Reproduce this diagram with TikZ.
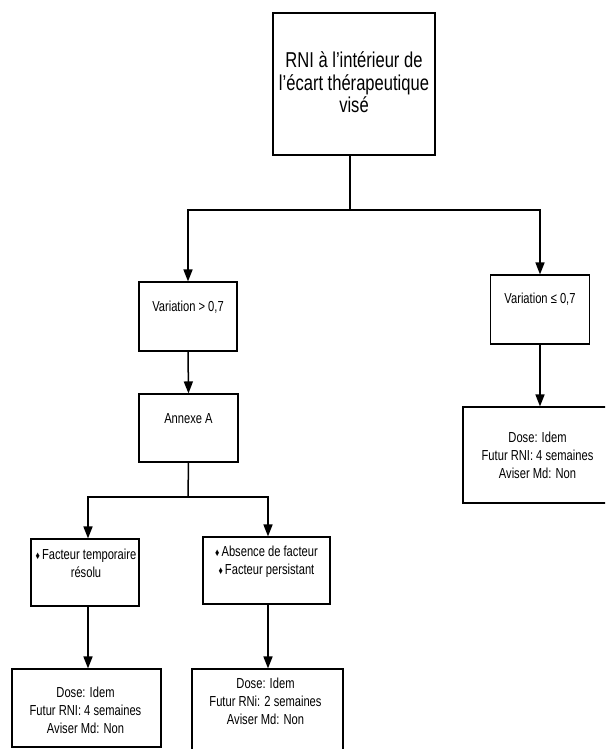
\documentclass[tikz,border=0pt]{standalone}
\usepackage{fontspec}
\setmainfont{Liberation Sans}[FakeStretch=0.77]
\usetikzlibrary{arrows.meta}
\newcommand{\dia}{{\fontsize{11}{18}\selectfont ♦}\hspace{2pt}}
\begin{document}
\begin{tikzpicture}[x=1pt,y=-1pt,
  box/.style={draw=black, line width=1.1pt, inner sep=0pt},
  txt/.style={align=center, inner sep=0pt, font=\fontsize{14.5}{18}\selectfont},
  bigtxt/.style={align=center, inner sep=0pt, font=\fontsize{21.5}{22.5}\selectfont},
  link/.style={line width=1.5pt},
  arr/.style={line width=1.5pt, -{Triangle[length=12pt,width=9pt]}}]
\useasboundingbox (0,0) rectangle (605,749);
\clip (0,0) rectangle (605,749);

% boxes
\node[box, minimum width=162pt, minimum height=142pt] (top) at (354,84) {};
\node[box, minimum width=98pt, minimum height=69pt] (v1) at (188,316.5) {};
\node[box, minimum width=99pt, minimum height=69pt] (v2) at (540,309.5) {};
\node[box, minimum width=99pt, minimum height=68pt] (ann) at (188.5,428) {};
\node[box, minimum width=108pt, minimum height=67pt] (f1) at (85,572.5) {};
\node[box, minimum width=127pt, minimum height=67pt] (f2) at (266.5,570.5) {};
\node[box, minimum width=149pt, minimum height=78pt] (d1) at (86.5,708) {};
\node[box, minimum width=151pt, minimum height=100pt] (d2) at (267.5,719) {};
\node[box, minimum width=160pt, minimum height=96pt] (d3) at (543,455) {};

% texts
\node[bigtxt] (ttop) at (354,82.5) {RNI à l'intérieur de\\l'écart thérapeutique\\visé};
\node[txt] (tv1) at (188,307) {Variation > 0,7};
\node[txt] (tv2) at (540,299) {Variation ≤ 0,7};
\node[txt] (tann) at (188.5,419) {Annexe A};
\node[txt] (tf1) at (86,563) {\dia Facteur temporaire\\résolu};
\node[txt] (tf2) at (266.5,561.5) {\dia Absence de facteur\\\dia Facteur persistant};
\node[txt] (td1) at (85.5,710) {Dose: Idem\\Futur RNI: 4 semaines\\Aviser Md: Non};
\node[txt] (td2) at (265.5,701.5) {Dose: Idem\\Futur RNi: 2 semaines\\Aviser Md: Non};
\node[txt] (td3) at (537.5,455) {Dose: Idem\\Futur RNI: 4 semaines\\Aviser Md: Non};

% junctions
\coordinate (j1) at (350,210);
\coordinate (j2) at (188,497);

% connectors
\draw[link] (top.south -| j1) -- (j1);
\draw[arr] (j1) -| (v1.north);
\draw[arr] (j1) -| (v2.north);
\draw[arr] (v1.south) -- (ann.north);
\draw[arr] (v2.south) -- (v2.south |- d3.north);
\draw[link] (ann.south) -- (j2);
\draw[arr] (j2) -| (88,0 |- f1.north);
\draw[arr] (j2) -| (268,0 |- f2.north);
\draw[arr] (88,0 |- f1.south) -- (88,0 |- d1.north);
\draw[arr] (268,0 |- f2.south) -- (268,0 |- d2.north);
\end{tikzpicture}
\end{document}
